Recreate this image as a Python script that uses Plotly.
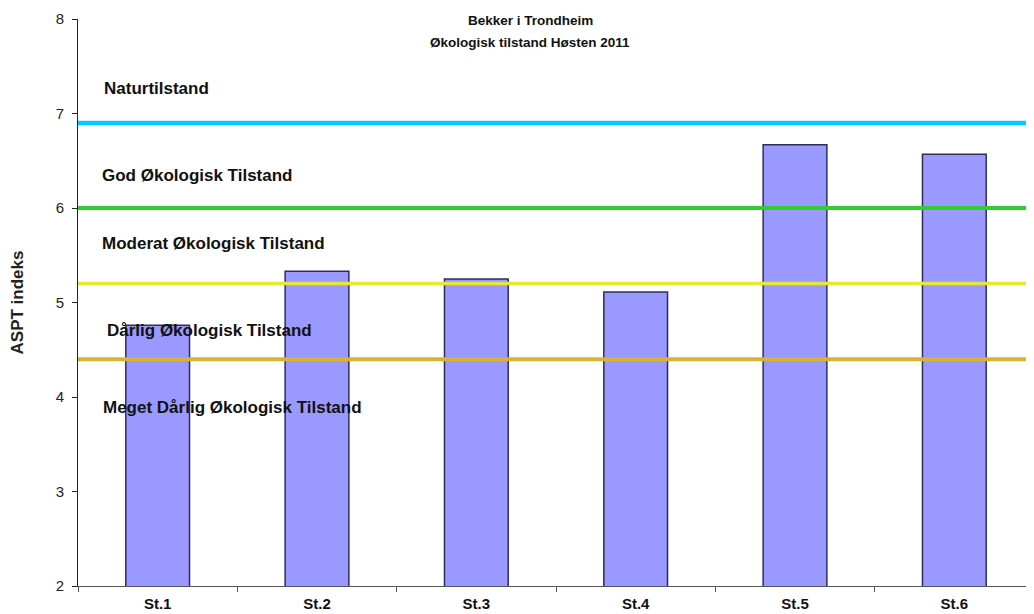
import plotly.graph_objects as go

stations = ["St.1", "St.2", "St.3", "St.4", "St.5", "St.6"]
aspt = [4.76, 5.33, 5.25, 5.11, 6.67, 6.57]

thresholds = [6.9, 6.0, 5.2, 4.4]
threshold_colors = ["#00CCFF", "#33CC33", "#E8E832", "#D9B236"]
threshold_widths = [4.5, 4, 3.5, 4]

class_labels = ["Naturtilstand", "God Økologisk Tilstand", "Moderat Økologisk Tilstand",
                "Dårlig Økologisk Tilstand", "Meget Dårlig Økologisk Tilstand"]
class_label_y = [7.26, 6.34, 5.62, 4.70, 3.89]
class_label_x = [94, 92, 92, 97, 93]

title_lines = ["Bekker i Trondheim", "Økologisk tilstand Høsten 2011"]
title_line_y = [0.998, 0.959]

# page body has an 8px margin, so the figure is slightly smaller than the window
W, H = 1026, 606
L, R, T, B = 70, 0, 11, 28
FONT = "Arial, Liberation Sans, sans-serif"

fig = go.Figure()
fig.add_trace(go.Bar(
    x=stations, y=aspt, base=0, width=0.4,
    marker=dict(color="#9999FF", line=dict(color="#2E2E5C", width=1.5)),
    showlegend=False,
))

for v, c, w in zip(thresholds, threshold_colors, threshold_widths):
    fig.add_shape(type="line", xref="paper", x0=0, x1=1, yref="y", y0=v, y1=v,
                  line=dict(color=c, width=w), layer="above")

for txt, y, px in zip(class_labels, class_label_y, class_label_x):
    fig.add_annotation(text="<b>%s</b>" % txt, xref="paper", x=(px - L) / (W - L - R),
                       yref="y", y=y, xanchor="left", yanchor="middle", showarrow=False,
                       font=dict(family=FONT, size=17, color="#111111"))

for txt, y in zip(title_lines, title_line_y):
    fig.add_annotation(text="<b>%s</b>" % txt,
                       xref="paper", x=(522 - L) / (W - L - R), yref="paper", y=y,
                       xanchor="center", yanchor="middle", showarrow=False,
                       font=dict(family=FONT, size=13.5, color="#111111"))

fig.update_layout(
    width=W, height=H,
    margin=dict(l=L, r=R, t=T, b=B, autoexpand=False),
    plot_bgcolor="white", paper_bgcolor="white",
    font=dict(family=FONT, color="#222222"),
    bargap=0.6,
)
fig.update_xaxes(
    type="category", showgrid=False, showline=True, linecolor="#555555", linewidth=1,
    ticks="outside", tickson="boundaries", ticklen=5, tickcolor="#555555",
    tickfont=dict(family=FONT, size=15, color="#111111"),
    tickprefix="<b>", ticksuffix="</b>", automargin=False, ticklabelstandoff=4,
)
fig.update_yaxes(
    range=[2, 8], dtick=1, showgrid=False, showline=True, linecolor="#222222", linewidth=1,
    ticks="outside", ticklen=5, tickcolor="#222222",
    tickfont=dict(family=FONT, size=15, color="#222222"),
    title=dict(text="<b>ASPT indeks</b>", font=dict(family=FONT, size=17, color="#222222"),
               standoff=28),
    zeroline=False, automargin=False, ticklabelstandoff=5,
)

fig.write_html("out.html")
